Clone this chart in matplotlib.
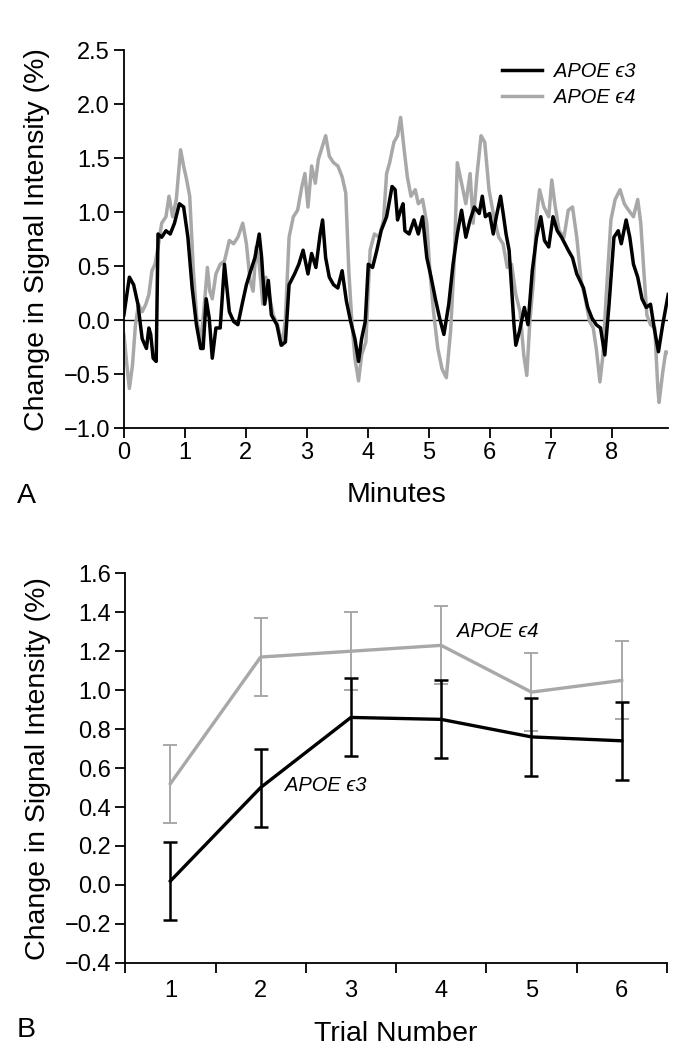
import numpy as np
import matplotlib
matplotlib.use('Agg')
import matplotlib.pyplot as plt

plt.rcParams['font.family'] = ['Liberation Sans', 'DejaVu Sans']

# Panel A: time course (minutes, % change)
e3_min = [0.00, 0.09, 0.16, 0.23, 0.30, 0.37, 0.41, 0.44, 0.48, 0.53,
          0.56, 0.62, 0.69, 0.76, 0.83, 0.91, 0.98, 1.05, 1.12, 1.19,
          1.26, 1.30, 1.35, 1.40, 1.45, 1.51, 1.58, 1.65, 1.73, 1.80,
          1.87, 1.94, 2.01, 2.08, 2.15, 2.22, 2.26, 2.31, 2.37, 2.42,
          2.51, 2.58, 2.65, 2.71, 2.80, 2.87, 2.94, 3.02, 3.08, 3.15,
          3.22, 3.26, 3.31, 3.37, 3.44, 3.51, 3.58, 3.65, 3.72, 3.79,
          3.85, 3.90, 3.96, 4.01, 4.08, 4.15, 4.22, 4.31, 4.40, 4.45,
          4.49, 4.54, 4.58, 4.61, 4.68, 4.76, 4.83, 4.90, 4.97, 5.04,
          5.11, 5.18, 5.25, 5.33, 5.40, 5.47, 5.54, 5.61, 5.68, 5.75,
          5.83, 5.88, 5.93, 6.00, 6.06, 6.11, 6.18, 6.22, 6.27, 6.32,
          6.40, 6.43, 6.49, 6.57, 6.63, 6.70, 6.77, 6.84, 6.90, 6.97,
          7.04, 7.11, 7.18, 7.29, 7.36, 7.43, 7.54, 7.61, 7.68, 7.75,
          7.82, 7.89, 7.96, 8.04, 8.11, 8.16, 8.24, 8.30, 8.36, 8.43,
          8.50, 8.57, 8.64, 8.70, 8.77, 8.84, 8.93]
e3_val = [0.05, 0.40, 0.33, 0.15, -0.17, -0.26, -0.07, -0.13, -0.35, -0.38,
          0.80, 0.77, 0.83, 0.80, 0.90, 1.08, 1.05, 0.77, 0.30, -0.04,
          -0.26, -0.26, 0.20, 0.02, -0.35, -0.07, -0.07, 0.52, 0.08, -0.01,
          -0.04, 0.15, 0.33, 0.46, 0.58, 0.80, 0.58, 0.15, 0.37, 0.05,
          -0.04, -0.23, -0.20, 0.33, 0.43, 0.52, 0.65, 0.43, 0.62, 0.49,
          0.80, 0.93, 0.58, 0.40, 0.33, 0.30, 0.46, 0.18, -0.01, -0.17,
          -0.38, -0.17, -0.01, 0.52, 0.49, 0.65, 0.83, 0.96, 1.24, 1.21,
          0.93, 1.02, 1.08, 0.83, 0.80, 0.93, 0.80, 0.96, 0.58, 0.40,
          0.20, 0.02, -0.13, 0.15, 0.52, 0.80, 1.02, 0.77, 0.93, 1.05,
          0.99, 1.15, 0.96, 0.99, 0.80, 0.96, 1.15, 1.00, 0.80, 0.65,
          -0.04, -0.23, -0.10, 0.12, -0.04, 0.46, 0.77, 0.96, 0.74, 0.68,
          0.96, 0.83, 0.77, 0.65, 0.58, 0.43, 0.30, 0.12, 0.02, -0.04,
          -0.07, -0.32, 0.15, 0.77, 0.83, 0.71, 0.93, 0.77, 0.52, 0.40,
          0.20, 0.12, 0.15, -0.07, -0.29, -0.04, 0.24]

e4_min = [0.00, 0.05, 0.09, 0.14, 0.19, 0.24, 0.30, 0.36, 0.41, 0.46,
          0.51, 0.57, 0.62, 0.69, 0.74, 0.80, 0.86, 0.93, 0.98, 1.03,
          1.08, 1.14, 1.20, 1.26, 1.31, 1.37, 1.41, 1.45, 1.51, 1.58,
          1.65, 1.73, 1.80, 1.87, 1.95, 2.01, 2.07, 2.12, 2.17, 2.22,
          2.28, 2.33, 2.38, 2.45, 2.52, 2.60, 2.65, 2.71, 2.78, 2.85,
          2.92, 2.97, 3.02, 3.08, 3.14, 3.19, 3.26, 3.31, 3.37, 3.44,
          3.51, 3.58, 3.64, 3.69, 3.74, 3.79, 3.85, 3.90, 3.97, 4.04,
          4.11, 4.19, 4.26, 4.31, 4.36, 4.43, 4.49, 4.54, 4.59, 4.65,
          4.71, 4.78, 4.83, 4.90, 4.97, 5.02, 5.08, 5.15, 5.22, 5.29,
          5.36, 5.42, 5.47, 5.54, 5.61, 5.68, 5.73, 5.79, 5.86, 5.92,
          5.99, 6.07, 6.15, 6.22, 6.29, 6.36, 6.43, 6.50, 6.56, 6.61,
          6.66, 6.72, 6.77, 6.82, 6.89, 6.97, 7.02, 7.07, 7.14, 7.22,
          7.29, 7.36, 7.43, 7.50, 7.57, 7.64, 7.70, 7.75, 7.81, 7.86,
          7.91, 7.99, 8.06, 8.14, 8.21, 8.28, 8.36, 8.43, 8.48, 8.53,
          8.58, 8.64, 8.71, 8.76, 8.78, 8.84, 8.89, 8.93]
e4_val = [-0.13, -0.42, -0.63, -0.42, -0.04, 0.15, 0.08, 0.15, 0.24, 0.46,
          0.52, 0.71, 0.90, 0.96, 1.15, 0.96, 1.12, 1.58, 1.43, 1.30,
          1.15, 0.46, -0.01, -0.20, 0.08, 0.49, 0.27, 0.20, 0.43, 0.52,
          0.55, 0.74, 0.71, 0.77, 0.90, 0.71, 0.37, 0.27, 0.68, 0.52,
          0.15, 0.40, 0.24, 0.05, -0.04, -0.23, 0.02, 0.77, 0.96, 1.02,
          1.24, 1.36, 1.05, 1.43, 1.27, 1.49, 1.62, 1.71, 1.52, 1.46,
          1.43, 1.33, 1.18, 0.46, -0.01, -0.35, -0.56, -0.32, -0.20, 0.65,
          0.80, 0.77, 0.93, 1.36, 1.46, 1.65, 1.71, 1.88, 1.62, 1.33,
          1.15, 1.21, 1.08, 1.12, 0.90, 0.46, 0.08, -0.26, -0.45, -0.53,
          -0.10, 0.55, 1.46, 1.27, 1.08, 1.36, 0.90, 1.33, 1.71, 1.65,
          1.21, 0.96, 0.77, 0.71, 0.49, 0.52, 0.24, 0.08, -0.32, -0.51,
          -0.01, 0.37, 0.96, 1.21, 1.05, 0.96, 1.30, 1.08, 0.83, 0.77,
          1.02, 1.05, 0.77, 0.37, 0.20, -0.01, -0.07, -0.26, -0.57, -0.32,
          0.20, 0.93, 1.12, 1.21, 1.08, 1.02, 0.96, 1.12, 0.90, 0.46,
          0.05, -0.04, -0.07, -0.63, -0.76, -0.48, -0.29, -0.30]

# Panel B: mean change per trial with error bars
trials = [1, 2, 3, 4, 5, 6]
e3_mean = [0.02, 0.50, 0.86, 0.85, 0.76, 0.74]
e3_err = [0.20, 0.20, 0.20, 0.20, 0.20, 0.20]
e4_mean = [0.52, 1.17, 1.20, 1.23, 0.99, 1.05]
e4_err = [0.20, 0.20, 0.20, 0.20, 0.20, 0.20]

GRAY = '#a8a8a8'
lab3 = 'APOE \u03f53'
lab4 = 'APOE \u03f54'
TICK_FS = 17
LABEL_FS = 20.5
NOTE_FS = 14.5

fig = plt.figure(figsize=(6.77, 10.5), dpi=100)

# ---- panel A
ax = fig.add_axes([0.183, 0.592, 0.804, 0.360])
ax.plot(e4_min, e4_val, color=GRAY, lw=2.5, label=lab4)
ax.plot(e3_min, e3_val, color='black', lw=2.5, label=lab3)
ax.axhline(0, color='black', lw=1.0, zorder=1)
ax.set_xlim(0, 8.93)
ax.set_ylim(-1.0, 2.5)
ax.set_xticks(range(0, 9))
ax.set_yticks(np.arange(-1.0, 2.51, 0.5))
ax.set_yticklabels(['\u22121.0', '\u22120.5', '0.0', '0.5', '1.0', '1.5', '2.0', '2.5'])
for s in ['top', 'right']:
    ax.spines[s].set_visible(False)
for s in ['left', 'bottom']:
    ax.spines[s].set_linewidth(1.3)
ax.tick_params(direction='out', length=7, width=1.3, labelsize=TICK_FS, pad=3)
ax.set_xlabel('Minutes', fontsize=LABEL_FS, labelpad=13)
ax.set_ylabel('Change in Signal Intensity (%)', fontsize=LABEL_FS, labelpad=10)
h, l = ax.get_legend_handles_labels()
ax.legend(h[::-1], l[::-1], loc='upper left', bbox_to_anchor=(0.68, 0.99),
          borderaxespad=0, frameon=False, handlelength=2.0, handletextpad=0.6,
          labelspacing=0.35, prop={'style': 'italic', 'size': NOTE_FS})
fig.text(0.025, 0.528, 'A', fontsize=LABEL_FS, ha='left', va='center')

# ---- panel B
bx = fig.add_axes([0.185, 0.083, 0.80, 0.371])
bx.errorbar(trials, e4_mean, yerr=e4_err, color=GRAY, lw=2.4, elinewidth=1.4,
            capsize=5, capthick=1.4)
bx.errorbar(trials, e3_mean, yerr=e3_err, color='black', lw=2.4, elinewidth=1.8,
            capsize=5, capthick=1.8)
bx.set_xlim(0.5, 6.5)
bx.set_ylim(-0.4, 1.6)
bx.set_xticks(np.arange(0.5, 6.6, 1.0))
bx.set_xticklabels([])
bx.set_xticks(trials, minor=True)
bx.set_xticklabels([str(t) for t in trials], minor=True)
bx.set_yticks(np.arange(-0.4, 1.61, 0.2))
bx.set_yticklabels(['\u22120.4', '\u22120.2', '0.0', '0.2', '0.4', '0.6', '0.8',
                    '1.0', '1.2', '1.4', '1.6'])
for s in ['top', 'right']:
    bx.spines[s].set_visible(False)
for s in ['left', 'bottom']:
    bx.spines[s].set_linewidth(1.3)
bx.tick_params(which='major', direction='out', length=7, width=1.3,
               labelsize=TICK_FS, pad=3)
bx.tick_params(which='minor', length=0, labelsize=TICK_FS, pad=12)
bx.set_xlabel('Trial Number', fontsize=LABEL_FS, labelpad=14)
bx.set_ylabel('Change in Signal Intensity (%)', fontsize=LABEL_FS, labelpad=10)
bx.text(4.17, 1.30, lab4, fontsize=NOTE_FS, style='italic', ha='left', va='center')
bx.text(2.27, 0.51, lab3, fontsize=NOTE_FS, style='italic', ha='left', va='center')
fig.text(0.025, 0.019, 'B', fontsize=LABEL_FS, ha='left', va='center')

fig.savefig('out.png', dpi=100)
